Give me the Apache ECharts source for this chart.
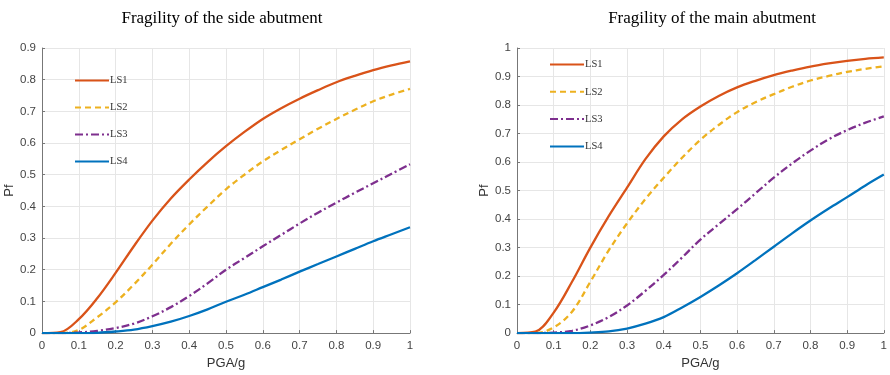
<!DOCTYPE html>
<html>
<head>
<meta charset="utf-8">
<script src="https://cdn.jsdelivr.net/npm/echarts@6/dist/echarts.min.js"></script>
<style>
  html, body { margin: 0; padding: 0; background: #fff; }
  #chart { width: 890px; height: 375px; }
</style>
</head>
<body>
<div id="chart"></div>
<script>
var pga = [0, 0.05, 0.1, 0.15, 0.2, 0.25, 0.3, 0.35, 0.4, 0.45, 0.5, 0.55, 0.6, 0.65, 0.7, 0.75, 0.8, 0.85, 0.9, 0.95, 1];

// side abutment
var sideLS1 = [0, 0.003, 0.044, 0.11, 0.19, 0.275, 0.355, 0.425, 0.485, 0.54, 0.59, 0.635, 0.676, 0.71, 0.74, 0.767, 0.792, 0.812, 0.83, 0.845, 0.858];
var sideLS2 = [0, 0, 0.01, 0.05, 0.097, 0.154, 0.216, 0.282, 0.343, 0.4, 0.454, 0.5, 0.542, 0.578, 0.612, 0.645, 0.676, 0.705, 0.732, 0.753, 0.771];
var sideLS3 = [0, 0, 0.002, 0.007, 0.016, 0.03, 0.053, 0.082, 0.117, 0.157, 0.2, 0.237, 0.274, 0.31, 0.346, 0.38, 0.412, 0.443, 0.473, 0.503, 0.533];
var sideLS4 = [0, 0, 0, 0.001, 0.005, 0.011, 0.022, 0.036, 0.054, 0.075, 0.099, 0.121, 0.145, 0.169, 0.194, 0.218, 0.242, 0.266, 0.29, 0.312, 0.334];

// main abutment
var mainLS1 = [0, 0.005, 0.072, 0.18, 0.3, 0.41, 0.51, 0.61, 0.69, 0.75, 0.795, 0.832, 0.862, 0.885, 0.905, 0.921, 0.935, 0.946, 0.955, 0.962, 0.967];
var mainLS2 = [0, 0, 0.02, 0.075, 0.18, 0.29, 0.385, 0.47, 0.545, 0.615, 0.678, 0.73, 0.775, 0.81, 0.838, 0.864, 0.886, 0.902, 0.916, 0.927, 0.936];
var mainLS3 = [0, 0, 0.002, 0.008, 0.027, 0.056, 0.097, 0.148, 0.204, 0.265, 0.328, 0.382, 0.435, 0.49, 0.545, 0.595, 0.64, 0.68, 0.712, 0.738, 0.76];
var mainLS4 = [0, 0, 0, 0, 0.002, 0.006, 0.016, 0.033, 0.056, 0.09, 0.127, 0.167, 0.21, 0.256, 0.303, 0.35, 0.395, 0.437, 0.477, 0.518, 0.556];

var names = ['LS1', 'LS2', 'LS3', 'LS4'];
var colors = ['#D95319', '#EDB120', '#7E2F8E', '#0072BD'];
var dashes = ['solid', [6, 4], [8, 3, 2, 3], 'solid'];

function pairs(ys) {
  var out = [];
  for (var i = 0; i < pga.length; i++) out.push([pga[i], ys[i]]);
  return out;
}

function makeSeries(idx, list) {
  return list.map(function(ys, i) {
    return {
      name: names[i],
      type: 'line',
      xAxisIndex: idx,
      yAxisIndex: idx,
      data: pairs(ys),
      smooth: 0.35,
      symbol: 'none',
      lineStyle: { color: colors[i], width: 2.3, type: dashes[i] },
      itemStyle: { color: colors[i] }
    };
  });
}

function fmt(v) { return String(+v.toFixed(1)); }

function xAx(idx) {
  return {
    type: 'value', gridIndex: idx, min: 0, max: 1, interval: 0.1,
    name: 'PGA/g', nameLocation: 'middle', nameGap: 22,
    nameTextStyle: { fontFamily: 'Liberation Sans', fontSize: 13, color: '#333' },
    axisLine: { lineStyle: { color: '#777' } },
    axisTick: { inside: true, length: 3, lineStyle: { color: '#777' } },
    axisLabel: { formatter: fmt, fontFamily: 'Liberation Sans', fontSize: 11.5, color: '#444', margin: 7 },
    splitLine: { show: true, lineStyle: { color: '#e6e6e6' } }
  };
}

function yAx(idx, max) {
  return {
    type: 'value', gridIndex: idx, min: 0, max: max, interval: 0.1,
    name: 'Pf', nameLocation: 'middle', nameGap: 25,
    nameTextStyle: { fontFamily: 'Liberation Sans', fontSize: 13, color: '#333' },
    axisLine: { show: true, lineStyle: { color: '#777' } },
    axisTick: { show: true, inside: true, length: 3, lineStyle: { color: '#777' } },
    axisLabel: { formatter: fmt, fontFamily: 'Liberation Sans', fontSize: 11.5, color: '#444', margin: 6 },
    splitLine: { show: true, lineStyle: { color: '#e6e6e6' } }
  };
}

function legend(left, top, gap) {
  return {
    orient: 'vertical', left: left, top: top, itemWidth: 34, itemHeight: 10, itemGap: gap,
    data: names,
    itemStyle: { opacity: 0 },
    textStyle: { fontFamily: 'Liberation Serif', fontSize: 10.5, color: '#333', padding: [0, 0, 0, -4] }
  };
}

var chart = echarts.init(document.getElementById('chart'));
chart.setOption({
  animation: false,
  title: [
    { text: 'Fragility of the side abutment', left: 217, top: 5, textAlign: 'center',
      textStyle: { fontFamily: 'Liberation Serif', fontSize: 17, fontWeight: 'normal', color: '#000' } },
    { text: 'Fragility of the main abutment', left: 707, top: 5, textAlign: 'center',
      textStyle: { fontFamily: 'Liberation Serif', fontSize: 17, fontWeight: 'normal', color: '#000' } }
  ],
  legend: [legend(69, 70, 16), legend(544, 54, 16.3)],
  grid: [
    { left: 42, top: 48, width: 368, height: 290 },
    { left: 517, top: 48, width: 369, height: 290 }
  ],
  xAxis: [xAx(0), xAx(1)],
  yAxis: [yAx(0, 0.9), yAx(1, 1)],
  series: makeSeries(0, [sideLS1, sideLS2, sideLS3, sideLS4])
    .concat(makeSeries(1, [mainLS1, mainLS2, mainLS3, mainLS4]))
});
</script>
</body>
</html>
